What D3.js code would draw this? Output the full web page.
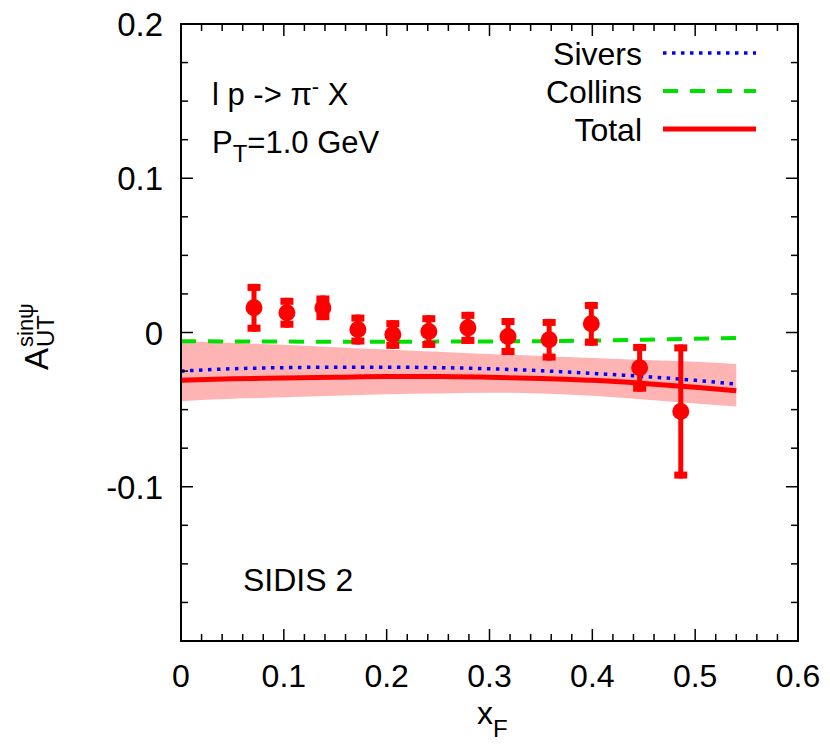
<!DOCTYPE html>
<html>
<head>
<meta charset="utf-8">
<script src="https://cdn.jsdelivr.net/npm/d3@7"></script>
<style>
  html, body { margin: 0; padding: 0; background: #fff; }
  svg { display: block; }
  text { font-family: "Liberation Sans", Arial, sans-serif; fill: #000; }
</style>
</head>
<body>
<svg id="chart" width="830" height="746"></svg>
<script>
// ---- data ----
const xTickValues = [0, 0.1, 0.2, 0.3, 0.4, 0.5, 0.6];
const xTickLabels = ["0", "0.1", "0.2", "0.3", "0.4", "0.5", "0.6"];
const yTickValues = [-0.1, 0, 0.1, 0.2];
const yTickLabels = ["-0.1", "0", "0.1", "0.2"];

const dataX   = [0.071, 0.103, 0.138, 0.172, 0.206, 0.241, 0.279, 0.318, 0.358, 0.399, 0.446, 0.486];
const dataY   = [0.016, 0.0128, 0.016, 0.0019, -0.0013, 0.0006, 0.003, -0.0026, -0.0047, 0.0056, -0.0229, -0.0512];
const dataErr = [0.0155, 0.0097, 0.008, 0.0097, 0.0093, 0.0106, 0.0104, 0.012, 0.0135, 0.0142, 0.0155, 0.0435];

const curveX    = [0, 0.05, 0.1, 0.15, 0.2, 0.25, 0.3, 0.35, 0.4, 0.45, 0.5, 0.54];
const sivers    = [-0.025, -0.0235, -0.0228, -0.0225, -0.0225, -0.0228, -0.0235, -0.0248, -0.0265, -0.0285, -0.031, -0.0335];
const collins   = [-0.0056, -0.0058, -0.0059, -0.006, -0.006, -0.0059, -0.0058, -0.0056, -0.0052, -0.0047, -0.0041, -0.0035];
const total     = [-0.031, -0.030, -0.0295, -0.029, -0.0285, -0.0285, -0.029, -0.0298, -0.031, -0.033, -0.0355, -0.0378];
const bandUpper = [-0.0055, -0.0068, -0.008, -0.0095, -0.011, -0.0125, -0.014, -0.0152, -0.0165, -0.0178, -0.019, -0.0205];
const bandLower = [-0.0445, -0.043, -0.042, -0.041, -0.040, -0.0395, -0.039, -0.0395, -0.041, -0.0435, -0.046, -0.048];

const legendNames = ["Sivers", "Collins", "Total"];

// ---- layout ----
const L = 181, R = 798, T = 24, B = 641;
const svg = d3.select("#chart");
const x = d3.scaleLinear().domain([0, 0.6]).range([L, R]);
const y = d3.scaleLinear().domain([-0.2, 0.2]).range([B, T]);

// band
const band = curveX.map((cx, i) => ({x: cx, lo: bandLower[i], hi: bandUpper[i]}));
svg.append("path")
  .datum(band)
  .attr("fill", "#ffb4b4")
  .attr("d", d3.area().x(d => x(d.x)).y0(d => y(d.lo)).y1(d => y(d.hi)).curve(d3.curveMonotoneX));

const lineGen = d3.line().x(d => x(d[0])).y(d => y(d[1])).curve(d3.curveMonotoneX);
const styles = {
  Sivers:  {color: "#0000ff", width: 3.5, dash: "3.5,5.5"},
  Collins: {color: "#00e000", width: 4,   dash: "15,12"},
  Total:   {color: "#ff0000", width: 5,   dash: null}
};
const seriesData = {Sivers: sivers, Collins: collins, Total: total};

["Total", "Sivers", "Collins"].forEach(name => {
  const st = styles[name];
  svg.append("path")
    .datum(curveX.map((cx, i) => [cx, seriesData[name][i]]))
    .attr("fill", "none")
    .attr("stroke", st.color)
    .attr("stroke-width", st.width)
    .attr("stroke-dasharray", st.dash)
    .attr("d", lineGen);
});

// data points
const pts = dataX.map((dx, i) => ({x: dx, y: dataY[i], e: dataErr[i]}));
const gp = svg.append("g");
gp.selectAll("line.err").data(pts).join("line")
  .attr("x1", d => x(d.x)).attr("x2", d => x(d.x))
  .attr("y1", d => y(d.y + d.e)).attr("y2", d => y(d.y - d.e))
  .attr("stroke", "#ff0000").attr("stroke-width", 5);
gp.selectAll("line.capT").data(pts).join("line")
  .attr("x1", d => x(d.x) - 6.5).attr("x2", d => x(d.x) + 6.5)
  .attr("y1", d => y(d.y + d.e) + 3.5).attr("y2", d => y(d.y + d.e) + 3.5)
  .attr("stroke", "#ff0000").attr("stroke-width", 7);
gp.selectAll("line.capB").data(pts).join("line")
  .attr("x1", d => x(d.x) - 6.5).attr("x2", d => x(d.x) + 6.5)
  .attr("y1", d => y(d.y - d.e) - 3.5).attr("y2", d => y(d.y - d.e) - 3.5)
  .attr("stroke", "#ff0000").attr("stroke-width", 7);
gp.selectAll("circle").data(pts).join("circle")
  .attr("cx", d => x(d.x)).attr("cy", d => y(d.y)).attr("r", 8.5)
  .attr("fill", "#ff0000");

// axes (ticks on all four sides)
const g = svg.append("g");
const xMinor = d3.range(0, 0.6001, 0.02);
const yMinor = d3.range(-0.2, 0.2001, 0.025);
const majLen = 12, minLen = 7;
const isMajor = v => Math.abs(v * 10 - Math.round(v * 10)) < 1e-6;
xMinor.forEach(v => {
  const len = isMajor(v) ? majLen : minLen;
  g.append("line").attr("x1", x(v)).attr("x2", x(v)).attr("y1", B).attr("y2", B - len).attr("stroke", "#000").attr("stroke-width", 1.5);
  g.append("line").attr("x1", x(v)).attr("x2", x(v)).attr("y1", T).attr("y2", T + len).attr("stroke", "#000").attr("stroke-width", 1.5);
});
yMinor.forEach(v => {
  const len = isMajor(v) ? majLen : minLen;
  g.append("line").attr("x1", L).attr("x2", L + len).attr("y1", y(v)).attr("y2", y(v)).attr("stroke", "#000").attr("stroke-width", 1.5);
  g.append("line").attr("x1", R).attr("x2", R - len).attr("y1", y(v)).attr("y2", y(v)).attr("stroke", "#000").attr("stroke-width", 1.5);
});
g.append("rect").attr("x", L).attr("y", T).attr("width", R - L).attr("height", B - T)
  .attr("fill", "none").attr("stroke", "#000").attr("stroke-width", 2);

// tick labels
xTickValues.forEach((v, i) => {
  svg.append("text").attr("x", x(v)).attr("y", 687).attr("text-anchor", "middle")
    .style("font-size", "32px").text(xTickLabels[i]);
});
yTickValues.forEach((v, i) => {
  svg.append("text").attr("x", 163).attr("y", y(v) + 12).attr("text-anchor", "end")
    .style("font-size", "33px").text(yTickLabels[i]);
});

// axis titles
const xt = svg.append("text").attr("x", 477).attr("y", 724).style("font-size", "32px");
xt.append("tspan").text("x");
xt.append("tspan").attr("dy", 13).style("font-size", "24px").text("F");

const yt = svg.append("text").attr("transform", "translate(48,370) rotate(-90)").style("font-size", "33px");
yt.append("tspan").attr("x", 0).attr("y", 0).text("A");
yt.append("tspan").attr("x", 23).attr("y", 6).style("font-size", "24px").text("UT");
yt.append("tspan").attr("x", 23).attr("y", -15).style("font-size", "22px").text("sinψ");

// annotations
const a1 = svg.append("text").attr("x", 212).attr("y", 105).style("font-size", "31px");
a1.append("tspan").text("l p -> π");
a1.append("tspan").attr("dy", -11).style("font-size", "22px").text("-");
a1.append("tspan").attr("dy", 11).text(" X");

const a2 = svg.append("text").attr("x", 212).attr("y", 153).style("font-size", "31px");
a2.append("tspan").text("P");
a2.append("tspan").attr("dy", 9).style("font-size", "24px").text("T");
a2.append("tspan").attr("dy", -9).text("=1.0 GeV");

svg.append("text").attr("x", 243).attr("y", 591).style("font-size", "32px").text("SIDIS 2");

// legend
const legY = [53, 91, 129];
legendNames.forEach((name, i) => {
  const st = styles[name];
  svg.append("text").attr("x", 642).attr("y", legY[i] + 12).attr("text-anchor", "end")
    .style("font-size", "32px").text(name);
  svg.append("line").attr("x1", 663).attr("x2", 756).attr("y1", legY[i]).attr("y2", legY[i])
    .attr("stroke", st.color).attr("stroke-width", st.width).attr("stroke-dasharray", st.dash);
});
</script>
</body>
</html>
